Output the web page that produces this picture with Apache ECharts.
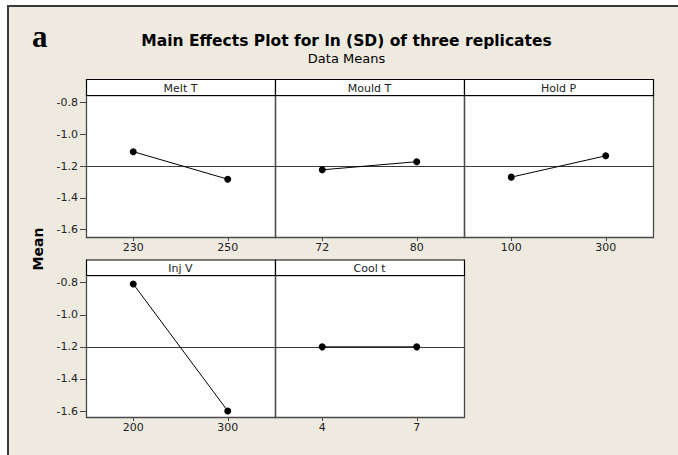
<!DOCTYPE html>
<html>
<head>
<meta charset="utf-8">
<script src="https://cdn.jsdelivr.net/npm/echarts@6/dist/echarts.min.js"></script>
<style>
html,body{margin:0;padding:0;background:#fff;}
#c{width:678px;height:455px;}
</style>
</head>
<body>
<div id="c"></div>
<script>
// ---- data ----
const factorNames = ['Melt T', 'Mould T', 'Hold P', 'Inj V', 'Cool t'];
const meltLevels = ['230', '250'];
const meltMeans = [-1.11, -1.283];
const mouldLevels = ['72', '80'];
const mouldMeans = [-1.224, -1.173];
const holdLevels = ['100', '300'];
const holdMeans = [-1.27, -1.136];
const injLevels = ['200', '300'];
const injMeans = [-0.808, -1.60];
const coolLevels = ['4', '7'];
const coolMeans = [-1.2, -1.2];
const grandMean = -1.2;
const yMin = -1.6, yMax = -0.8, yStep = 0.2;
const titleText = 'Main Effects Plot for ln (SD) of three replicates';
const subtitleText = 'Data Means';
const panelTag = 'a';
const yName = 'Mean';

const levelsList = [meltLevels, mouldLevels, holdLevels, injLevels, coolLevels];
const meansList = [meltMeans, mouldMeans, holdMeans, injMeans, coolMeans];

// ---- layout ----
const colX = [86, 275, 464, 653];
const rows = [
  {hTop: 79, fTop: 95, fBot: 237, gTop: 102.3, gBot: 229.7},
  {hTop: 259.5, fTop: 275, fBot: 417, gTop: 282.7, gBot: 411}
];
const FONT = 'DejaVu Sans';
const grids = [], xAxes = [], yAxes = [], series = [], graphics = [];

graphics.push({type: 'rect', z: -10, silent: true,
  shape: {x: 8, y: 6, width: 700, height: 470},
  style: {fill: '#EEEAE0', stroke: '#3a3a3a', lineWidth: 2}});

graphics.push({type: 'text', z: 5, style: {text: panelTag, x: 32, y: 36,
  font: 'bold 31px "Liberation Serif"', fill: '#000', textAlign: 'left', textVerticalAlign: 'middle'}});
graphics.push({type: 'text', z: 5, style: {text: titleText, x: 346.5, y: 40.5,
  font: 'bold 15.5px "' + FONT + '"', fill: '#000', textAlign: 'center', textVerticalAlign: 'middle'}});
graphics.push({type: 'text', z: 5, style: {text: subtitleText, x: 346.5, y: 58.5,
  font: '13px "' + FONT + '"', fill: '#000', textAlign: 'center', textVerticalAlign: 'middle'}});
graphics.push({type: 'text', z: 5, rotation: Math.PI / 2, x: 37.5, y: 249,
  style: {text: yName, x: 0, y: 0, font: 'bold 14px "' + FONT + '"', fill: '#000',
  textAlign: 'center', textVerticalAlign: 'middle'}});

factorNames.forEach(function (name, i) {
  const r = rows[i < 3 ? 0 : 1];
  const c = i % 3;
  const x0 = colX[c], x1 = colX[c + 1];
  const w = x1 - x0;
  // panel fill
  graphics.push({type: 'rect', z: -5, silent: true,
    shape: {x: x0, y: r.fTop, width: w, height: r.fBot - r.fTop},
    style: {fill: '#fff', stroke: null}});
  // panel frame
  graphics.push({type: 'rect', z: 20, silent: true,
    shape: {x: x0 + 0.5, y: r.fTop + 0.5, width: w, height: r.fBot - r.fTop},
    style: {fill: null, stroke: '#4a4a4a', lineWidth: 1.3}});
  // header
  graphics.push({type: 'rect', z: 21, silent: true,
    shape: {x: x0 + 0.5, y: r.hTop + 0.5, width: w, height: r.fTop - r.hTop},
    style: {fill: '#fff', stroke: '#000', lineWidth: 1.2}});
  graphics.push({type: 'text', z: 22, silent: true,
    style: {text: name, x: (x0 + x1) / 2, y: (r.hTop + r.fTop) / 2 + 1,
    font: '11px "' + FONT + '"', fill: '#222', textAlign: 'center', textVerticalAlign: 'middle'}});

  grids.push({left: x0, top: r.gTop, width: w, height: r.gBot - r.gTop, containLabel: false});
  xAxes.push({
    type: 'category', gridIndex: i, data: levelsList[i], boundaryGap: true,
    offset: r.fBot - r.gBot,
    axisLine: {show: false},
    axisTick: {show: true, alignWithLabel: true, length: 4, lineStyle: {color: '#444'}},
    axisLabel: {show: true, margin: 5, fontSize: 11, fontFamily: FONT, color: '#222'},
    splitLine: {show: false}
  });
  const showY = (c === 0);
  yAxes.push({
    type: 'value', gridIndex: i, min: yMin, max: yMax, interval: yStep,
    axisLine: {show: false},
    axisTick: {show: showY, length: 6, lineStyle: {color: '#444'}},
    axisLabel: {show: showY, margin: 8, fontSize: 11, fontFamily: FONT, color: '#222',
      formatter: function (v) { return v.toFixed(1); }},
    splitLine: {show: false}
  });
  series.push({
    type: 'line', xAxisIndex: i, yAxisIndex: i, data: meansList[i],
    clip: false, symbol: 'circle', symbolSize: 7, z: 10,
    lineStyle: {color: '#000', width: 1},
    itemStyle: {color: '#000'},
    emphasis: {disabled: true},
    markLine: {silent: true, symbol: 'none', animation: false,
      label: {show: false},
      lineStyle: {color: '#3a3a3a', width: 1, type: 'solid'},
      data: [{yAxis: grandMean}]}
  });
});

const chart = echarts.init(document.getElementById('c'), null, {renderer: 'svg'});
chart.setOption({
  animation: false,
  backgroundColor: '#fff',
  grid: grids, xAxis: xAxes, yAxis: yAxes, series: series,
  graphic: graphics
});
</script>
</body>
</html>
